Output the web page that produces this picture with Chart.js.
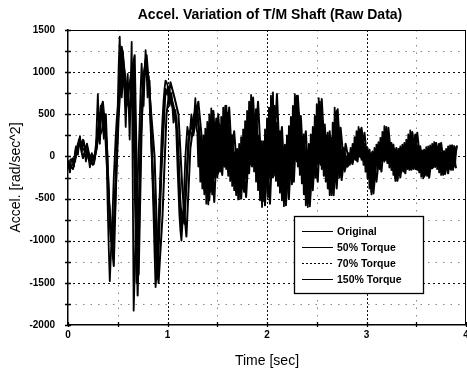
<!DOCTYPE html>
<html>
<head>
<meta charset="utf-8">
<script src="https://cdn.jsdelivr.net/npm/chart.js@4.4.1/dist/chart.umd.min.js"></script>
<style>
  html, body { margin: 0; padding: 0; background: #fff; }
  #wrap { width: 467px; height: 372px; }
</style>
</head>
<body>
<div id="wrap"><canvas id="accelChart" width="467" height="372"></canvas></div>
<script>
const chartTitle = "Accel. Variation of T/M Shaft (Raw Data)";
const xTitle = "Time [sec]";
const yTitle = "Accel. [rad/sec^2]";
const seriesLabels = ["Original", "50% Torque", "70% Torque", "150% Torque"];

// Original is read every 0.01 s, the torque runs every 0.04 s
// (each torque run was sampled with its own small start offset)
const steps = [0.01, 0.04, 0.04, 0.04];
const startOffsets = [0, 0.01, 0.02, 0.03];

const original = [
  -50, -140, -190, -60, -30, -20, -120, 50, 120, 60,
  20, 150, 240, 120, 60, 200, 180, 40, -60, 20,
  90, -40, -130, -50, 40, -40, -90, -30, 60, 420,
  740, 380, 150, 400, 620, 420, 210, 450, 380, -100,
  -650, -1100, -1480, -1200, -900, -600, -250, 0, 250, 450,
  600, 1100, 1420, 1000, 700, 900, 1050, 700, 350, 700,
  980, 600, 200, 800, 1360, -200, -1830, -1400, -900, -600,
  -300, 50, 400, 800, 1100, 850, 600, 950, 1260, 1000,
  700, 800, 900, 500, 100, -300, -700, -1150, -1550, -1400,
  -1200, -850, -500, -150, 200, 450, 650, 800, 900, 880,
  850, 700, 600, 680, 750, 580, 400, 480, 550, 250,
  -100, -400, -700, -880, -1000, -800, -600, -300, 0, 180,
  350, 280, 200, 350, 500, 400, 300, 500, 690, 350,
  280, -120, 220, -300, 160, -380, 250, -450, 330, -560,
  410, -570, 500, -420, 570, -300, 540, -250, 400, -200,
  310, -200, 380, -170, 470, -130, 580, -120, 600, -150,
  520, -230, 360, -290, 250, -350, 120, -400, 50, -460,
  90, -510, 150, -500, 230, -380, 320, -320, 420, -260,
  540, -180, 650, -100, 730, -90, 620, -180, 480, -300,
  350, -400, 250, -520, 170, -600, 180, -530, 320, -350,
  450, -300, 580, -250, 720, -200, 760, -230, 600, -290,
  400, -350, 220, -430, 150, -520, 100, -590, 140, -520,
  250, -380, 360, -260, 470, -180, 600, -90, 740, -40,
  720, -120, 520, -220, 360, -320, 230, -450, 120, -580,
  80, -600, 150, -480, 260, -330, 350, -260, 480, -160,
  620, -90, 690, -80, 560, -150, 420, -230, 300, -300,
  250, -380, 210, -460, 230, -460, 400, -360, 580, -300,
  540, -260, 350, -210, 160, -180, 80, -150, 30, -130,
  0, -120, 40, -90, 100, -60, 150, -40, 230, -20,
  300, -10, 350, 0, 320, -40, 240, -100, 150, -180,
  100, -260, 60, -380, 40, -450, 60, -330, 100, -200,
  140, -110, 170, -90, 220, -60, 290, -40, 360, -40,
  350, -80, 250, -130, 160, -160, 130, -220, 90, -290,
  75, -280, 90, -220, 120, -170, 140, -150, 160, -140,
  200, -150, 260, -160, 310, -160, 280, -150, 200, -150,
  150, -160, 130, -190, 100, -240, 70, -260, 80, -220,
  110, -170, 120, -150, 130, -140, 150, -130, 170, -125,
  160, -150, 120, -190, 80, -220, 50, -220, 60, -180,
  90, -150, 120, -150, 130, -160, 135, -160, 125, -120,
  100
];

const torque50 = [
  -100, -150, 80, 180, 120, -40, -100, 100, 600, 350,
  -500, -1100, 100, 1150, 800, 850, 900, -1500, 200, 1000,
  950, -200, -1350, -300, 700, 820, 650, 450, -600, -800,
  200, 400, 600,
  200, -400, 380, -450, 450, -180, 520, -180, 250, -420,
  100, -420, 480, -120, 560, -420, 120, -480, 680, -220,
  300, -540, 150, -330, 700, -150, 260, -560, 180, -250,
  650, -160, 280, -440, 520, -250, 100, -120, 60, -40,
  320, -60, 100, -420, 60, -150, 280, -60, 160, -260,
  90, -180, 180, -150, 260, -170, 70, -230, 110, -120,
  150, -200, 60, -150, 120
];

const torque70 = [
  -30, -80, 150, 100, 60, 20, -60, 200, 300, 500,
  -800, -1300, 400, 1300, 900, 500, 1100, -1650, 600, 1150,
  800, -400, -1450, -150, 800, 700, 550, 300, -850, -500,
  300, 250, 550,
  -200, 250, -520, 540, -250, 300, -120, 580, -300, 80,
  -500, 250, -200, 700, -250, 180, -580, 380, -250, 740,
  -380, 120, -500, 420, -60, 480, -420, 100, -400, 400,
  -100, 380, -380, 200, -380, 340, -180, 20, -90, 200,
  -10, 280, -220, 50, -300, 150, -60, 340, -160, 100,
  -250, 130, -140, 290, -150, 120, -240, 90, -140, 160,
  -150, 60, -200, 120, -140
];

const torque150 = [
  -120, -60, 200, -20, 150, -80, 30, 400, 650, 150,
  -1000, -700, 500, 1250, 600, 950, 1200, -1400, 900, 1200,
  600, 0, -1500, -700, 500, 880, 700, 500, -400, -950,
  100, 450, 650,
  150, -300, 300, -540, 500, -220, 600, -150, 300, -350,
  50, -480, 350, -100, 650, -300, 100, -560, 600, -250,
  350, -580, 200, -300, 720, -120, 300, -590, 150, -300,
  680, -200, 300, -460, 560, -280, 150, -100, 40, -60,
  340, -40, 80, -440, 100, -180, 320, -80, 140, -290,
  80, -200, 220, -140, 280, -160, 60, -250, 120, -110,
  160, -210, 70, -140, 130
];

const xTicks = [0, 1, 2, 3, 4];
const yTicks = [-2000, -1500, -1000, -500, 0, 500, 1000, 1500];

function toPoints(vals, step, start) {
  return vals.map((v, i) => ({ x: +(start + i * step).toFixed(3), y: v }));
}

const FONT = "'Liberation Sans', Arial, sans-serif";
const legendDash = [[], [], [2, 2], []];

// dotted grid, inward ticks, frame, title, legend box
const paperLook = {
  id: 'paperLook',
  beforeDatasetsDraw(chart) {
    const { ctx, chartArea: a, scales: { x, y } } = chart;
    ctx.save();
    ctx.lineWidth = 1;
    for (let v = yTicks[0] + 250; v < yTicks[yTicks.length - 1]; v += 250) {
      const py = Math.round(y.getPixelForValue(v)) + 0.5;
      const major = v % 500 === 0;
      ctx.strokeStyle = major ? '#111' : '#888';
      ctx.setLineDash(major ? [2, 3] : [1.5, 6]);
      ctx.beginPath(); ctx.moveTo(a.left, py); ctx.lineTo(a.right, py); ctx.stroke();
    }
    for (let v = 0.5; v < 4; v += 0.5) {
      const px = Math.round(x.getPixelForValue(v)) + 0.5;
      const major = v % 1 === 0;
      ctx.strokeStyle = major ? '#111' : '#888';
      ctx.setLineDash(major ? [2, 2] : [1.5, 6]);
      ctx.beginPath(); ctx.moveTo(px, a.top); ctx.lineTo(px, a.bottom); ctx.stroke();
    }
    ctx.restore();
  },
  afterDraw(chart) {
    const { ctx, chartArea: a, scales: { x, y } } = chart;
    ctx.save();
    // frame
    ctx.strokeStyle = '#000';
    ctx.lineWidth = 1;
    ctx.beginPath();
    ctx.moveTo(a.left, a.top + 0.5); ctx.lineTo(a.right, a.top + 0.5);
    ctx.moveTo(a.right - 0.5, a.top); ctx.lineTo(a.right - 0.5, a.bottom);
    ctx.stroke();
    // small ticks on the left and bottom axes
    ctx.lineWidth = 1.3;
    ctx.beginPath();
    for (let v = yTicks[0]; v <= yTicks[yTicks.length - 1]; v += 250) {
      const py = Math.round(y.getPixelForValue(v)) + 0.5;
      ctx.moveTo(a.left - 3, py); ctx.lineTo(a.left + 3, py);
    }
    for (let v = 0; v <= 4; v += 0.5) {
      const px = Math.round(x.getPixelForValue(v)) + 0.5;
      ctx.moveTo(px, a.bottom - 3); ctx.lineTo(px, a.bottom + 2);
    }
    ctx.stroke();

    // title
    ctx.fillStyle = '#000';
    ctx.font = "bold 14px " + FONT;
    ctx.textAlign = 'center';
    ctx.textBaseline = 'middle';
    ctx.fillText(chartTitle, 270, 15);

    // legend box
    const bx = 294, by = 216, bw = 129, bh = 77;
    ctx.fillStyle = '#fff';
    ctx.fillRect(bx, by, bw, bh);
    ctx.strokeStyle = '#000';
    ctx.lineWidth = 1.3;
    ctx.strokeRect(bx + 0.5, by + 0.5, bw, bh);
    ctx.font = "bold 10.5px " + FONT;
    ctx.textAlign = 'left';
    chart.data.datasets.forEach((ds, i) => {
      const ry = by + 15 + i * 16;
      ctx.setLineDash(legendDash[i]);
      ctx.lineWidth = 1;
      ctx.beginPath(); ctx.moveTo(bx + 8, ry + 0.5); ctx.lineTo(bx + 39, ry + 0.5); ctx.stroke();
      ctx.setLineDash([]);
      ctx.fillStyle = '#000';
      ctx.fillText(ds.label, bx + 43, ry + 1);
    });
    ctx.restore();
  }
};

const seriesValues = [original, torque50, torque70, torque150];
const lineWidths = [1.8, 2, 2, 2];

new Chart(document.getElementById('accelChart'), {
  type: 'line',
  data: {
    datasets: seriesValues.map((vals, i) => ({
      label: seriesLabels[i],
      data: toPoints(vals, steps[i], startOffsets[i]),
      borderColor: '#000',
      borderWidth: lineWidths[i],
      borderJoinStyle: 'round',
      pointRadius: 0,
      tension: 0,
      fill: false
    }))
  },
  options: {
    responsive: false,
    animation: false,
    devicePixelRatio: 1,
    events: [],
    layout: { padding: { top: 30, left: 0, right: 1, bottom: 0 } },
    plugins: {
      legend: { display: false },
      tooltip: { enabled: false }
    },
    scales: {
      x: {
        type: 'linear',
        min: xTicks[0],
        max: xTicks[xTicks.length - 1],
        afterBuildTicks: (scale) => { scale.ticks = xTicks.map(v => ({ value: v })); },
        afterFit: (scale) => { scale.height = 47; scale.paddingLeft = 0; scale.paddingRight = 0; },
        grid: { display: false, drawTicks: false },
        border: { display: true, color: '#000', width: 1.5 },
        ticks: {
          color: '#000',
          padding: 4,
          maxRotation: 0,
          font: { family: FONT, size: 10, weight: 'bold' },
          callback: (v) => String(v)
        },
        title: {
          display: true,
          text: xTitle,
          color: '#000',
          font: { family: FONT, size: 14 },
          padding: { top: 0, bottom: 2 }
        }
      },
      y: {
        min: yTicks[0],
        max: yTicks[yTicks.length - 1],
        afterBuildTicks: (scale) => { scale.ticks = yTicks.map(v => ({ value: v })); },
        afterFit: (scale) => { scale.width = 68; scale.paddingTop = 0; scale.paddingBottom = 0; },
        grid: { display: false, drawTicks: false },
        border: { display: true, color: '#000', width: 1.5 },
        ticks: {
          color: '#000',
          padding: 13,
          font: { family: FONT, size: 10, weight: 'bold' },
          callback: (v) => String(v)
        },
        title: {
          display: true,
          text: yTitle,
          color: '#000',
          font: { family: FONT, size: 14 },
          padding: { top: 8, bottom: 0 }
        }
      }
    }
  },
  plugins: [paperLook]
});
</script>
</body>
</html>
